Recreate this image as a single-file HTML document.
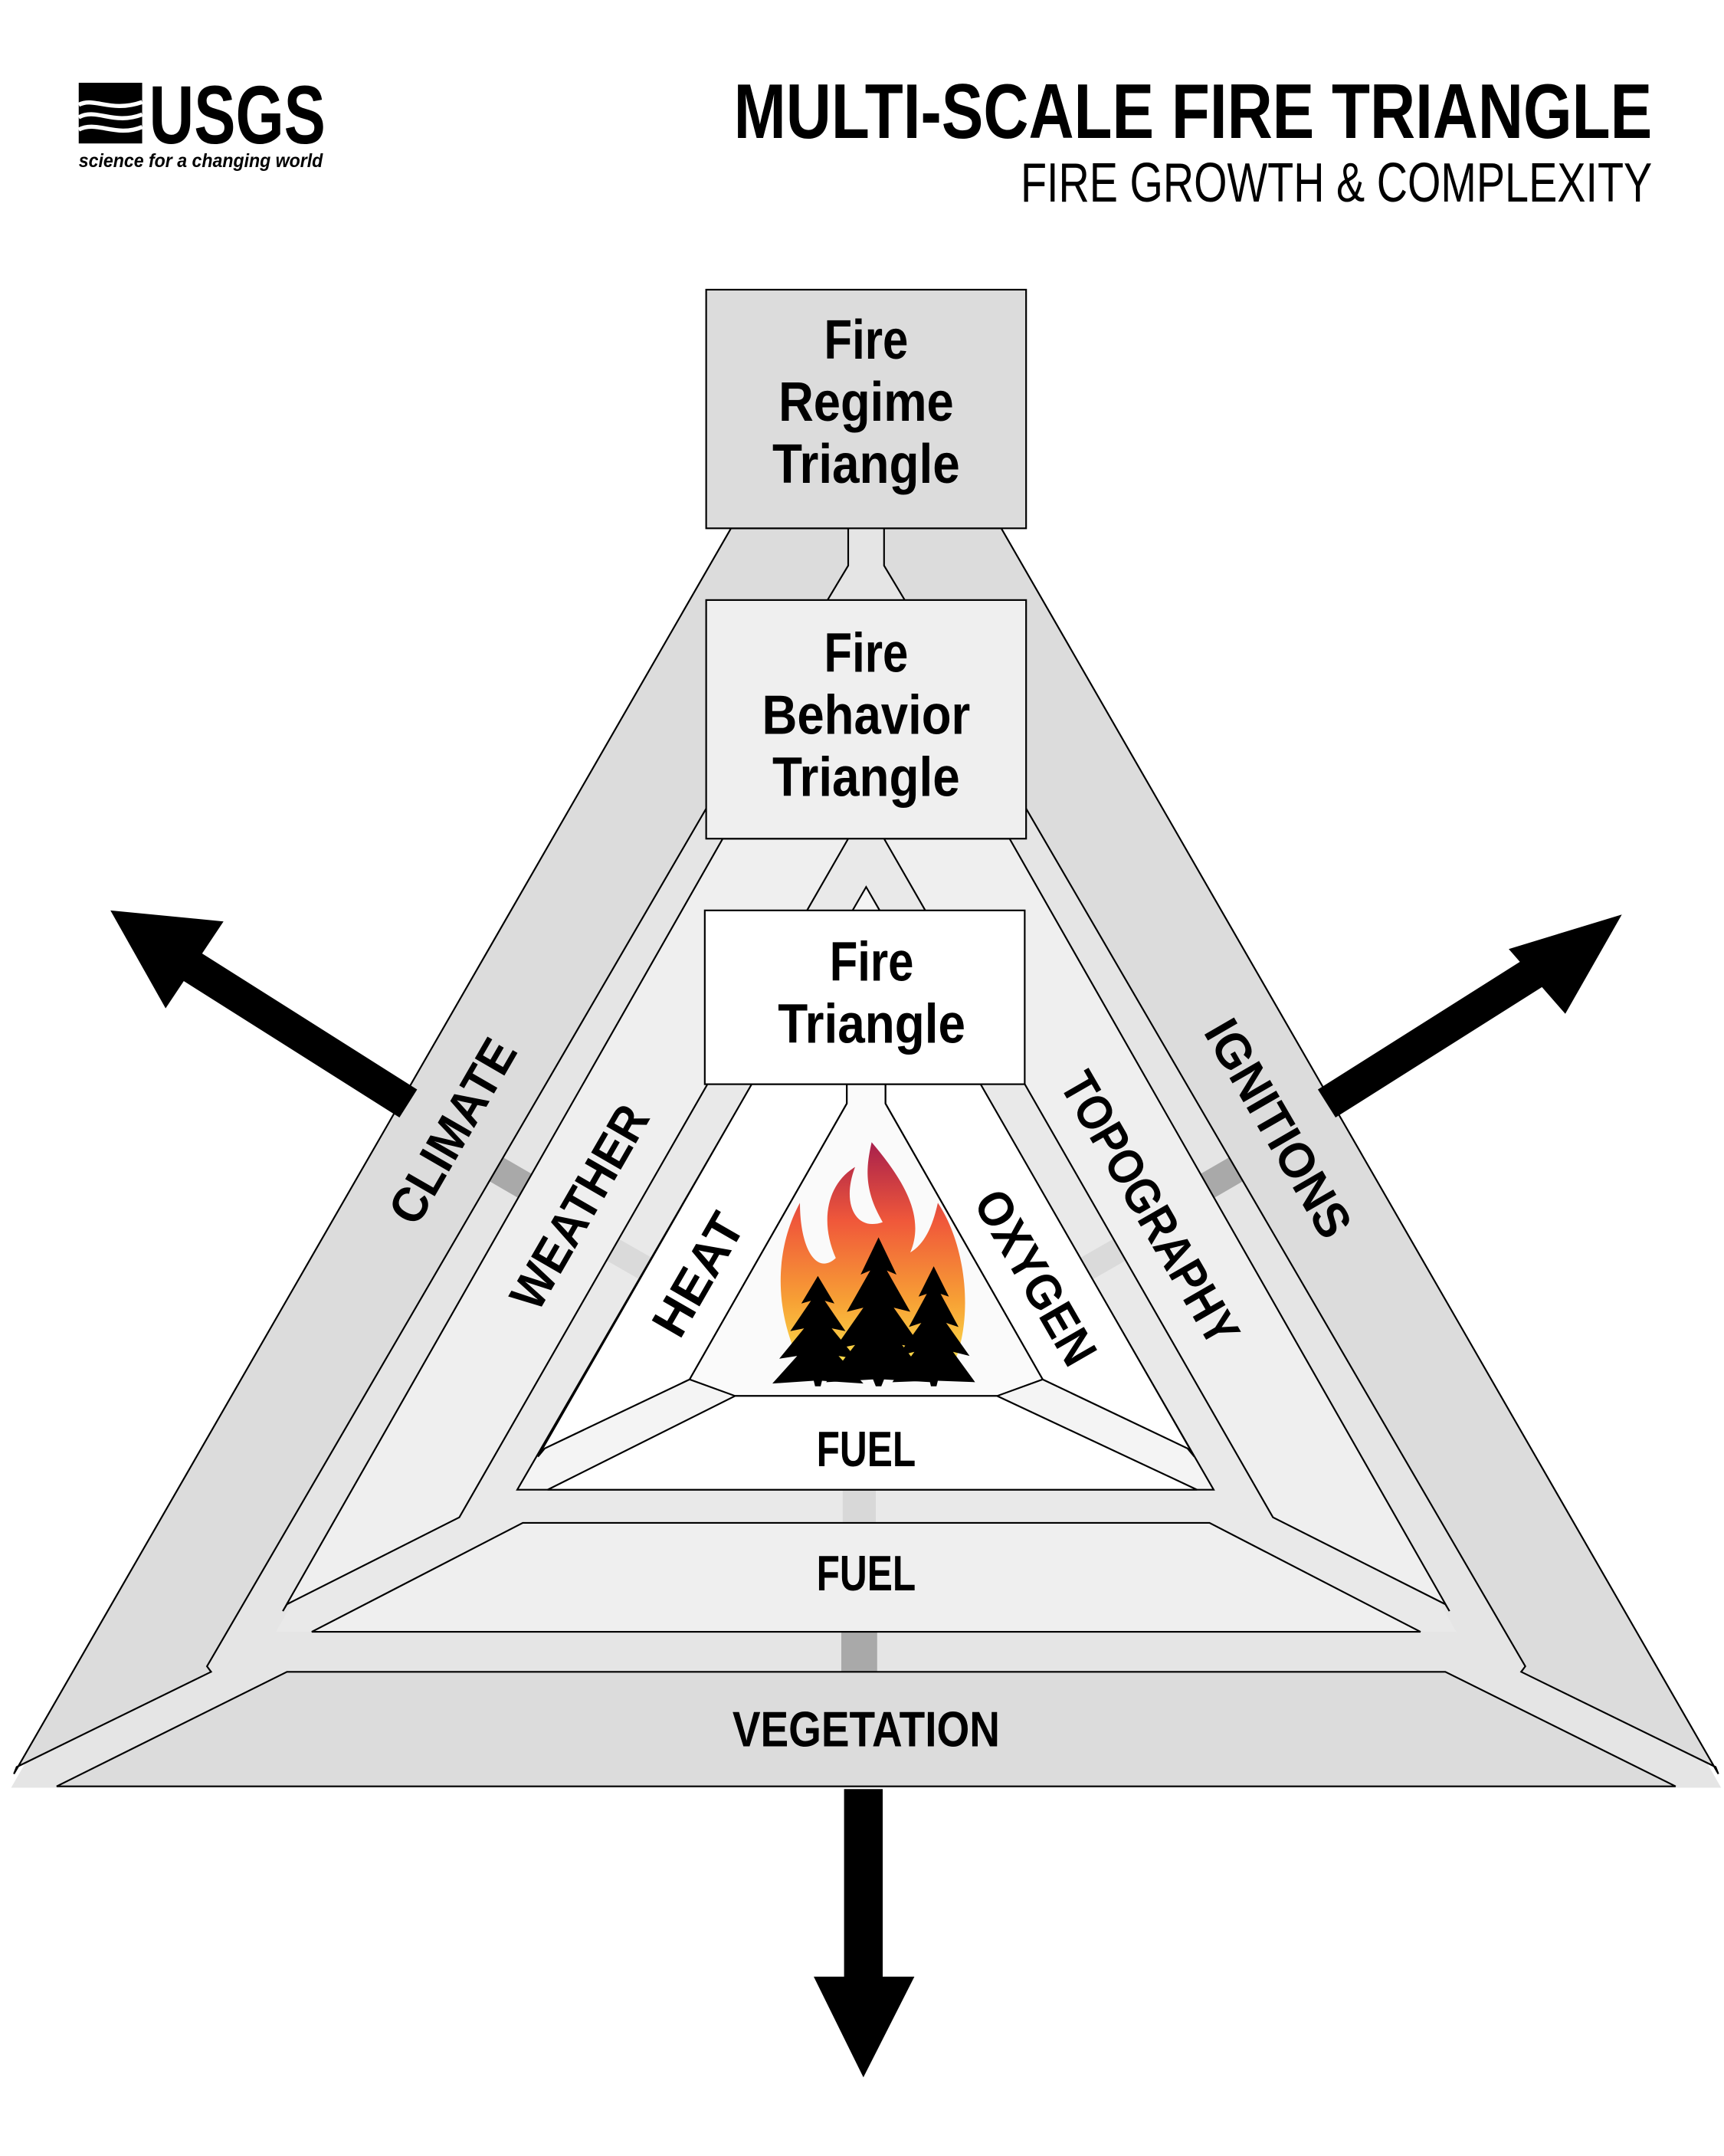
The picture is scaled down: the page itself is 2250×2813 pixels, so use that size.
<!DOCTYPE html>
<html><head><meta charset="utf-8"><style>
html,body{margin:0;padding:0;background:#fff;}
svg{display:block;}
text{font-family:"Liberation Sans Narrow","Liberation Sans",sans-serif;font-weight:bold;fill:#000;}
</style></head><body>
<svg width="2250" height="2813" viewBox="0 0 1250 1563" xmlns="http://www.w3.org/2000/svg">
<defs>
<linearGradient id="fl" x1="0" y1="0" x2="0" y2="1">
<stop offset="0" stop-color="#a8204c"/><stop offset="0.35" stop-color="#f0583a"/><stop offset="0.7" stop-color="#f7a035"/><stop offset="1" stop-color="#fbe24a"/>
</linearGradient>
</defs>
<rect width="1250" height="1563" fill="#fff"/>

<!-- USGS logo -->
<rect x="57" y="60" width="46" height="44" fill="#000"/>
<path d="M57,76 C68,70 80,82 103,74 M57,85 C70,78 82,91 103,83 M57,94 C70,87 84,100 103,92" stroke="#fff" stroke-width="3" fill="none"/>
<text x="108" y="104" font-size="60" textLength="128" lengthAdjust="spacingAndGlyphs">USGS</text>
<text x="57" y="121" font-size="14" font-style="italic" textLength="177" lengthAdjust="spacingAndGlyphs">science for a changing world</text>

<!-- Title -->
<text x="1198" y="100" text-anchor="end" font-size="56" textLength="666" lengthAdjust="spacingAndGlyphs">MULTI-SCALE FIRE TRIANGLE</text>
<text x="1198" y="146" text-anchor="end" font-size="40" font-weight="normal" style="font-weight:normal" textLength="458" lengthAdjust="spacingAndGlyphs">FIRE GROWTH &amp; COMPLEXITY</text>

<g stroke="#000" stroke-width="1.2" stroke-linejoin="miter">
<!-- OUTER layer gap -->
<polygon points="530,383 726,383 1248,1296 8,1296" fill="#e5e5e5" stroke="none"/>
<!-- connector bars outer -->
<line x1="350" y1="842" x2="400" y2="871" stroke="#a9a9a9" stroke-width="20"/>
<line x1="906" y1="842" x2="856" y2="871" stroke="#a9a9a9" stroke-width="20"/>
<line x1="623" y1="1180" x2="623" y2="1214" stroke="#a9a9a9" stroke-width="26"/>
<!-- outer strips -->
<polygon points="530,383 615,383 615,410 600,435 150,1208 153,1212 12,1281 10,1286" fill="#dcdcdc"/>
<polygon points="726,383 641,383 641,410 656,435 1106,1208 1103,1212 1244,1281 1246,1286" fill="#dcdcdc"/>
<polygon points="208,1212 1048,1212 1215,1295 41,1295" fill="#dcdcdc"/>

<!-- MIDDLE layer gap -->
<polygon points="527,608 729,608 1056,1183 200,1183" fill="#e9e9e9" stroke="none"/>
<line x1="425" y1="895" x2="495" y2="935" stroke="#dadada" stroke-width="18"/>
<line x1="831" y1="895" x2="761" y2="935" stroke="#dadada" stroke-width="18"/>
<line x1="623" y1="1078" x2="623" y2="1108" stroke="#d8d8d8" stroke-width="24"/>
<polygon points="524,608 615,608 588,655 333,1100 208,1163 205,1168" fill="#efefef"/>
<polygon points="732,608 641,608 668,655 923,1100 1048,1163 1051,1168" fill="#efefef"/>
<polygon points="379,1104 877,1104 1030,1183 226,1183" fill="#efefef"/>

<!-- INNER layer gap -->
<polygon points="628,643 880,1080 375,1080" fill="#f4f4f4"/>
<line x1="525" y1="962" x2="565" y2="985" stroke="#e8e8e8" stroke-width="16"/>
<line x1="731" y1="962" x2="691" y2="985" stroke="#e8e8e8" stroke-width="16"/>
<polygon points="545,786 614,786 614,800 500,1000 395,1050 390,1056" fill="#fff"/>
<polygon points="711,786 642,786 642,800 756,1000 861,1050 866,1056" fill="#fff"/>
<polygon points="614,786 642,786 642,800 756,1000 723,1012 533,1012 500,1000 614,800" fill="#fafafa"/>
<polygon points="533,1012 723,1012 868,1080 397,1080" fill="#fff"/>

<!-- Boxes -->
<rect x="512" y="210" width="232" height="173" fill="#dcdcdc"/>
<rect x="512" y="435" width="232" height="173" fill="#efefef"/>
<rect x="511" y="660" width="232" height="126" fill="#fff"/>
</g>

<!-- box text -->
<g font-size="40" text-anchor="middle">
<text x="628" y="260" textLength="61" lengthAdjust="spacingAndGlyphs">Fire</text>
<text x="628" y="305" textLength="127" lengthAdjust="spacingAndGlyphs">Regime</text>
<text x="628" y="350" textLength="136" lengthAdjust="spacingAndGlyphs">Triangle</text>
<text x="628" y="487" textLength="61" lengthAdjust="spacingAndGlyphs">Fire</text>
<text x="628" y="532" textLength="151" lengthAdjust="spacingAndGlyphs">Behavior</text>
<text x="628" y="577" textLength="136" lengthAdjust="spacingAndGlyphs">Triangle</text>
<text x="632" y="711" textLength="61" lengthAdjust="spacingAndGlyphs">Fire</text>
<text x="632" y="756" textLength="136" lengthAdjust="spacingAndGlyphs">Triangle</text>
</g>

<!-- bar labels -->
<g font-size="36" text-anchor="middle">
<text x="628" y="1063" textLength="72" lengthAdjust="spacingAndGlyphs">FUEL</text>
<text x="628" y="1153" textLength="72" lengthAdjust="spacingAndGlyphs">FUEL</text>
<text x="628" y="1266" textLength="194" lengthAdjust="spacingAndGlyphs">VEGETATION</text>
</g>
<g font-size="36" text-anchor="middle" dominant-baseline="central">
<text transform="translate(328,820) rotate(-60)" textLength="148" lengthAdjust="spacingAndGlyphs">CLIMATE</text>
<text transform="translate(420,875) rotate(-60)" textLength="164" lengthAdjust="spacingAndGlyphs">WEATHER</text>
<text transform="translate(506,924) rotate(-60)" textLength="96" lengthAdjust="spacingAndGlyphs">HEAT</text>
<text transform="translate(751,926) rotate(60)" textLength="140" lengthAdjust="spacingAndGlyphs">OXYGEN</text>
<text transform="translate(834,876) rotate(60)" textLength="222" lengthAdjust="spacingAndGlyphs">TOPOGRAPHY</text>
<text transform="translate(927,818) rotate(60)" textLength="176" lengthAdjust="spacingAndGlyphs">IGNITIONS</text>
</g>

<!-- flame -->
<path d="M582,992 C560,950 562,905 580,872 C580,905 592,925 606,912 C594,885 600,858 620,846 C610,872 620,893 640,886 C626,862 628,846 632,828 C652,852 672,880 660,908 C670,902 676,890 680,872 C702,905 706,960 690,992 Z" fill="url(#fl)"/>
<!-- trees -->
<g fill="#000">
<polygon points="637,897 650,924 643,921 660,951 648,948 669,978 654,975 675,1002 641,1000 639,1005 635,1005 633,1000 599,1002 620,975 605,978 626,948 614,951 631,921 624,924"/>
<polygon points="593,925 605,945 598,943 613,965 603,963 621,985 608,983 626,1003 596,1001 595,1005 591,1005 590,1001 560,1003 578,983 565,985 583,963 573,965 588,943 581,945"/>
<polygon points="677,918 688,940 682,938 695,962 686,959 703,983 691,980 707,1002 680,1001 679,1005 675,1005 674,1001 647,1002 663,980 651,983 668,959 659,962 672,938 666,940"/>
</g>

<!-- arrows -->
<g fill="#000">
<line x1="296" y1="800" x2="130" y2="695" stroke="#000" stroke-width="24"/>
<polygon points="80,660 162,668 120,731"/>
<line x1="962" y1="800" x2="1125" y2="697" stroke="#000" stroke-width="24"/>
<polygon points="1176,663 1094,688 1135,735"/>
<rect x="612" y="1297" width="28" height="140"/>
<polygon points="590,1433 663,1433 626,1506"/>
</g>
</svg>
</body></html>
